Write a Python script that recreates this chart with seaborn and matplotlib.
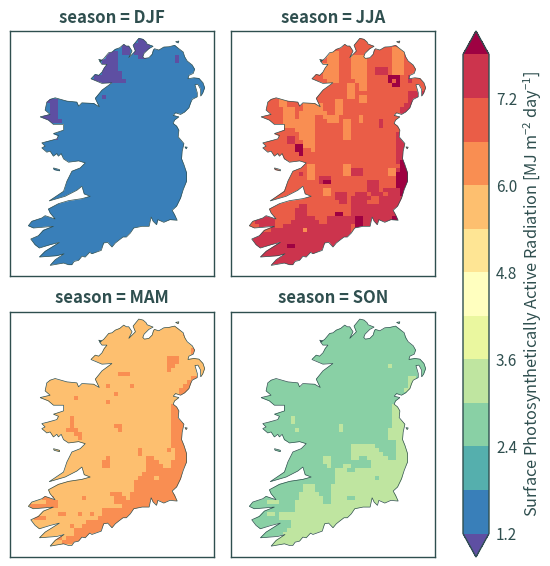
import re
import numpy as np
import pandas as pd
import matplotlib
matplotlib.use("Agg")
import matplotlib.pyplot as plt
import seaborn as sns
from matplotlib.cm import ScalarMappable
from matplotlib.colors import BoundaryNorm, ListedColormap
from matplotlib.patches import PathPatch
from matplotlib.path import Path

# dados
seasons = ["DJF", "JJA", "MAM", "SON"]
levels = [1.2, 1.8, 2.4, 3.0, 3.6, 4.2, 4.8, 5.4, 6.0, 6.6, 7.2, 7.8]
tick_values = [1.2, 2.4, 3.6, 4.8, 6.0, 7.2]
cbar_label = "Surface Photosynthetically Active Radiation [MJ m$^{-2}$ day$^{-1}$]"

# valor representativo de cada classe
p, b, g, l, a, o, r, c, d = 1.0, 1.5, 2.7, 3.3, 5.7, 6.3, 6.9, 7.5, 8.1
class_values = {"p": p, "b": b, "g": g, "l": l, "a": a, "o": o, "r": r, "c": c, "d": d}
base_class = {"DJF": "b", "JJA": "r", "MAM": "a", "SON": "g"}

# linhas da grade em run-length: "20. 3p" = 20 celulas da classe base, 3 da classe p
djf_rows = ["", "28. 2p", "24. 2p 1. 4p", "24. 2p 1. 4p", "20. 3p 1. 2p 1. 4p",
            "20. 3p 5. 2p 7. 1p", "19. 4p 14. 1p", "19. 4p", "19. 4p", "19. 5p",
            "17. 7p", "16. 9p", "", "", "", "19. 1p", "5. 3p", "6. 2p", "6. 2p",
            "6. 2p", "4. 4p", "5. 4p", "", "", "", "6. 2p"]

jja_rows = ["", "", "", "36. 3o", "20. 3o 13. 3o", "20. 3o 3. 4o 6. 3o",
            "20. 3o 3. 4o 6. 3o", "19. 4o 3. 4o 6. 3o", "19. 4o 3. 4o 2. 3c 1. 3o",
            "19. 4o 3. 4o 2. 3c 1. 3o", "19. 4o 3. 4o 5. 3d 2. 1c",
            "20. 3o 4. 3o 5. 1d 1. 1d 2. 1c", "25. 2o 1. 2o 6. 2d", "25. 2o 1. 2o",
            "25. 2o 13. 4c", "25. 2o 1. 2o 10. 4c", "8. 2o 12. 2o 4. 2o 10. 4c",
            "8. 2o 4. 5o 3. 2o 15. 3c", "9. 3o 2. 5o 3. 2o 14. 3c",
            "9. 3o 1. 7o 2. 2o 14. 2c", "9. 3o 1. 4o 2. 4o 5. 1o",
            "9. 8o 3. 3o 1. 2o 2. 1o 4. 1c", "9. 8o 7. 2o 7. 1c", "12. 5o 7. 2o",
            "13. 4o 7. 2o 11. 2c", "10. 2c 1. 4o 7. 2o 11. 2c", "10. 2c 2. 3o 20. 2c",
            "12. 2d 3o 20. 2c", "12. 2d 2. 1o 20. 2c", "13. 1d 23. 2c", "37. 2c",
            "37. 1c 2d", "15. 2o 7. 2o 12. 2d", "15. 2o 7. 2o 3c 6. 2o 1c 3d",
            "13. 1c 1. 2o 7. 2o 3c 6. 2o 4d", "15. 2o 1. 3c 16. 4d",
            "18. 1c 2d 9. 3c 4. 4d", "30. 3c 4. 4d", "19. 2o 9. 3c 1. 4c 2d",
            "19. 2o 1. 3c 2. 3c 1. 3c 1. 3c 2d", "22. 3c 1. 5c 2. 6c",
            "23. 2c 1. 4c 3. 6c", "13. 2c 11. 13c", "12. 3c 11. 12c",
            "12. 3c 7. 2d 2. 11c", "3. 4c 5. 5c 3. 7c 2d 7c 2d",
            "2. 5c 4. 7c 2. 7c 2d 7c 2d 1c", "3. 4c 2. 17c 1. 2d 10c",
            "6. 8c 1o 11c", "3. 30c", "50c", "50c", "10c 2d 40c", "50c", "50c",
            "50c", "50c", "50c"]

mam_rows = ["", "", "", "39. 1o", "39. 1o", "", "", "", "41. 1o", "41. 1o", "35. 3o",
            "35. 3o", "35. 2o", "35. 1o", "23. 3o", "41. 4o", "40. 4o",
            "20. 1o 5. 1o 12. 4o", "38. 4o", "22. 1o 15. 2o", "12. 1o", "20. 1o",
            "36. 3o", "36. 3o", "36. 3o", "11. 1o 24. 3o", "11. 1o 24. 4o",
            "11. 1o 10. 2o 12. 4o", "10. 3o 10. 1o 12. 4o", "12. 2o 22. 4o",
            "13. 1o 22. 4o", "36. 4o", "36. 4o", "28. 1o 6. 1o 1. 4o", "28. 1o 8. 4o",
            "20. 1o 9. 2o 5. 4o", "19. 2o 9. 3o 3. 5o", "19. 2o 9. 4o 2. 5o",
            "30. 10o", "29. 10o", "28. 4o 1. 6o", "27. 12o", "27. 11o", "27. 10o",
            "21. 3o 2. 12o", "4. 3o 7. 1o 7. 3o 1. 12o", "5. 3o 14. 4o 12o",
            "1. 7o 16. 14o", "19. 9o", "8. 2o 3. 1o 2. 1o 2. 8o", "2. 3o 13. 8o",
            "15. 9o", "11. 1o 2. 9o", "12. 9o", "12. 8o", "7. 2o 1. 7o", "9. 5o"]

son_rows = ["", "", "", "", "", "", "", "", "", "", "", "", "35. 1l", "", "", "40. 2l",
            "40. 5l", "40. 2l", "39. 2l", "", "", "", "36. 2l", "36. 2l", "36. 3l",
            "11. 1l 24. 3l", "11. 1l 24. 4l", "23. 1l 12. 4l", "12. 1l 10. 1l 11. 5l",
            "35. 5l", "35. 5l", "37. 3l", "26. 6l 5. 4l", "26. 7l 4. 4l", "26. 8l 3. 4l",
            "19. 2l 5. 2l 2. 5l 2. 4l", "19. 2l 10. 10l", "20. 1l 3. 2l 5. 10l",
            "22. 3l 2. 14l", "22. 18l", "22. 10l 1. 7l", "22. 18l", "14. 3l 4. 18l",
            "14. 3l 4. 17l", "13. 5l 3. 17l", "13. 6l 2. 4l 2. 12l", "5. 3l 4. 7l 2. 17l",
            "12. 27l", "12. 27l", "5. 2l 1. 3l 30l", "8. 40l", "11. 30l", "11. 30l",
            "10. 35l", "9. 35l", "7. 35l", "6. 35l", "6. 35l"]

season_rows = {"DJF": djf_rows, "JJA": jja_rows, "MAM": mam_rows, "SON": son_rows}

# costa da Irlanda, tracada em unidades do mapa (3 unidades = 1 pixel da referencia)
coast_x = [415, 428, 437, 440, 458, 445, 431, 427, 432, 445, 455, 459, 462, 475, 490, 505, 522, 535,
           548, 552, 560, 575, 582, 578, 565, 562, 580, 595, 607, 612, 606, 600, 600, 592,
           583, 590, 590, 575, 570, 565, 552, 540, 525, 518, 535, 522, 518, 528, 535, 533,
           550, 545, 543, 550, 558, 558, 548, 540, 528, 515, 522, 530, 508, 490, 472, 468,
           458, 452, 446, 425, 400, 390, 378, 368, 355, 345, 335, 322, 310, 303, 275, 268,
           255, 245, 235, 222, 215, 205, 190, 150, 165, 192, 170, 118, 135, 178, 150, 118,
           105, 92, 115, 130, 160, 125, 100, 85, 95, 125, 135, 165, 150, 145, 175, 205,
           245, 270, 252, 245, 230, 195, 147, 190, 200, 215, 240, 255, 235, 205, 190, 183,
           175, 170, 160, 150, 140, 125, 135, 125, 145, 170, 175, 160, 190, 190, 160, 145,
           120, 150, 135, 140, 150, 165, 200, 230, 235, 245, 280, 297, 285, 305, 335, 305,
           272, 285, 295, 305, 312, 320, 305, 298, 310, 325, 335, 345, 358, 370, 378, 385,
           395, 385, 405, 398]
coast_y = [117, 120, 128, 134, 141, 148, 162, 172, 177, 175, 165, 152, 148, 152, 143, 142, 138, 148,
           158, 172, 185, 197, 210, 222, 228, 238, 235, 237, 250, 265, 282, 290, 270, 255,
           256, 280, 292, 300, 310, 325, 338, 345, 340, 348, 352, 362, 372, 380, 392, 412,
           432, 455, 478, 495, 520, 545, 570, 595, 620, 632, 645, 662, 660, 668, 660, 675,
           665, 652, 680, 680, 685, 700, 712, 712, 722, 730, 742, 728, 730, 752, 762, 758,
           772, 770, 782, 785, 795, 795, 790, 797, 780, 762, 768, 772, 755, 728, 735, 745,
           735, 718, 708, 692, 680, 683, 685, 678, 665, 655, 648, 658, 640, 628, 612, 603,
           597, 590, 583, 560, 572, 590, 604, 575, 545, 515, 505, 490, 484, 488, 478, 462,
           470, 462, 470, 455, 458, 445, 440, 430, 425, 418, 408, 402, 392, 375, 375, 362,
           352, 345, 332, 308, 300, 295, 305, 308, 320, 310, 312, 322, 297, 272, 250, 252,
           238, 225, 228, 218, 205, 195, 195, 186, 178, 160, 158, 150, 145, 135, 140, 140,
           155, 175, 155, 138]
islands_x = [[525, 535, 533], [295, 303, 300], [160, 178, 178, 162], [553, 560, 557]]
islands_y = [[127, 125, 131], [180, 182, 186], [505, 510, 514, 510], [442, 443, 448]]

# extensao do mapa e da grade nas mesmas unidades
frame_x = (30, 640)
frame_y = (828, 95)
grid_x0, grid_y0, cell = 78, 108, 12
ncols, nrows = 46, 60

dark = "#2F4F4F"
sns.set_theme(style="white", rc={
    "text.color": dark, "axes.labelcolor": dark, "axes.edgecolor": dark,
    "xtick.color": dark, "ytick.color": dark, "axes.linewidth": 1.0,
    "mathtext.default": "regular",
})
plt.rcParams["font.family"] = ["Noto Sans CJK SC", "DejaVu Sans"]

colors = [tuple(x) for x in plt.get_cmap("Spectral_r", 13)(range(13))]
cmap_cells = ListedColormap(colors)


def expand(rows, base):
    out = []
    for n in range(nrows):
        text = rows[n] if n < len(rows) else ""
        line = ""
        for count, ch in re.findall(r"(\d+)(\S)", text):
            line += (base if ch == "." else ch) * int(count)
        out.append(line.ljust(ncols, base)[:ncols])
    return out


records = []
for season in seasons:
    for i, line in enumerate(expand(season_rows[season], base_class[season])):
        for j, ch in enumerate(line):
            records.append((season, i, j, class_values[ch]))
df = pd.DataFrame(records, columns=["season", "row", "col", "value"])

parts = [Path(np.vstack([np.column_stack([coast_x, coast_y]), [coast_x[0], coast_y[0]]]), closed=True)]
for xs, ys in zip(islands_x, islands_y):
    pts = np.column_stack([xs, ys])
    parts.append(Path(np.vstack([pts, pts[0]]), closed=True))
coast_px = Path.make_compound_path(*parts)
coast = Path((coast_px.vertices - [grid_x0, grid_y0]) / cell, coast_px.codes)


def draw_map(data, **kws):
    ax = plt.gca()
    grid = data.pivot(index="row", columns="col", values="value")
    sns.heatmap(grid, ax=ax, cmap=cmap_cells, vmin=0.6, vmax=8.4, cbar=False,
                xticklabels=False, yticklabels=False)
    clip = PathPatch(coast, transform=ax.transData, fc="none", ec=dark, lw=0.5)
    ax.add_patch(clip)
    ax.collections[0].set_clip_path(clip)
    ax.set_xlim((frame_x[0] - grid_x0) / cell, (frame_x[1] - grid_x0) / cell)
    ax.set_ylim((frame_y[0] - grid_y0) / cell, (frame_y[1] - grid_y0) / cell)
    # o heatmap esconde as bordas
    for spine in ax.spines.values():
        spine.set_visible(True)


g = sns.FacetGrid(df, col="season", col_order=seasons, col_wrap=2, despine=False,
                  sharex=True, sharey=True)
g.map_dataframe(draw_map)
g.set_axis_labels("", "")
g.set_titles(template="{col_var} = {col_name}", fontweight="bold", fontsize=11.2)
g.figure.set_size_inches(5.5, 5.66)
g.figure.subplots_adjust(left=10 / 550, right=435 / 550, top=1 - 31 / 566,
                         bottom=1 - 556.5 / 566, wspace=0.083, hspace=0.147)

# o eixo inclui as pontas da barra
cax = g.figure.add_axes([463 / 550, 9 / 566, 26 / 550, 526 / 566])
cmap_bar = ListedColormap(colors[1:12]).with_extremes(under=colors[0], over=colors[12])
norm = BoundaryNorm(levels, 11)
cbar = g.figure.colorbar(ScalarMappable(norm=norm, cmap=cmap_bar), cax=cax, extend="both",
                         extendfrac=0.049, ticks=tick_values, drawedges=False)
cbar.ax.minorticks_off()
cbar.ax.tick_params(which="both", length=0, pad=5, labelsize=11, colors=dark)
cbar.ax.set_yticklabels([f"{v:.1f}" for v in tick_values])
cbar.set_label(cbar_label, fontsize=11.75, labelpad=3)
cbar.outline.set_edgecolor(dark)
cbar.outline.set_linewidth(1.0)

g.figure.savefig("out.png", dpi=100)
